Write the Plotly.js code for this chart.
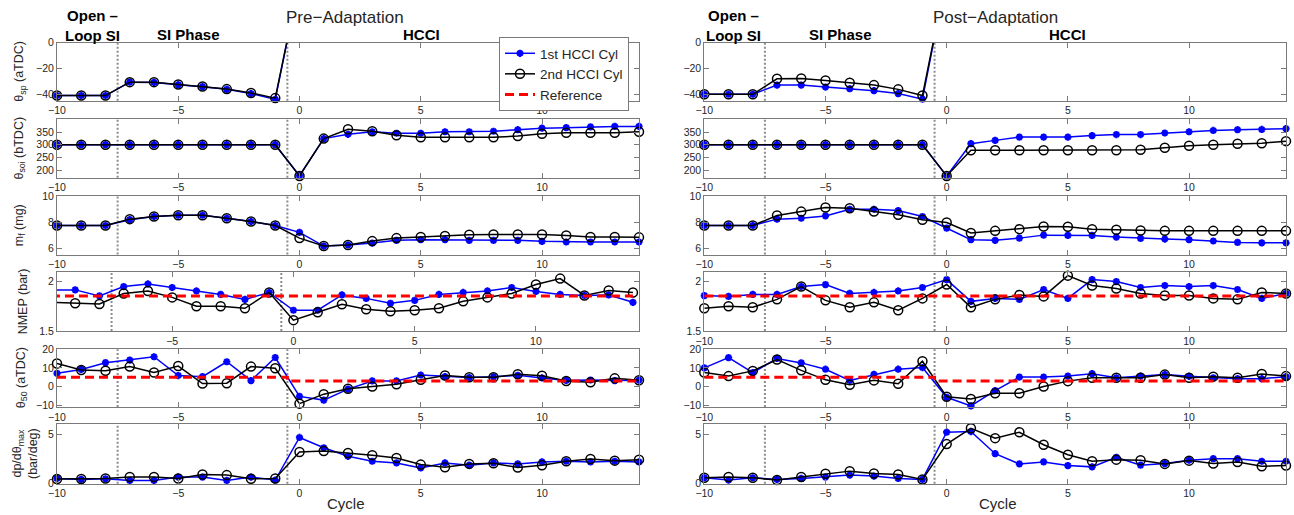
<!DOCTYPE html>
<html><head><meta charset="utf-8">
<script src="https://cdn.plot.ly/plotly-3.0.1.min.js"></script>
<style>html,body{margin:0;padding:0;background:#fff;} #chart{width:1294px;height:515px;}</style>
</head><body><div id="chart"></div>
<script>
// ---------- data ----------
const cycles = [-10,-9,-8,-7,-6,-5,-4,-3,-2,-1,0,1,2,3,4,5,6,7,8,9,10,11,12,13,14];
const xTickVals = [-10,-5,0,5,10];
const phaseBounds = [-7.5,-0.5];
const seriesNames = ['1st HCCI Cyl','2nd HCCI Cyl','Reference'];
const columnTitles = ['Pre\u2212Adaptation','Post\u2212Adaptation'];
const phaseLabels = ['Open \u2013<br>Loop SI','SI Phase','HCCI'];
const yTitles = ['\u03b8<sub>sp</sub> (aTDC)','\u03b8<sub>soi</sub> (bTDC)','m<sub>f</sub> (mg)','NMEP (bar)','\u03b8<sub>50</sub> (aTDC)','dp/d\u03b8<sub>max</sub><br>(bar/deg)'];
const yTickVals = [[-40,-20,0],[200,250,300,350],[6,8,10],[1.5,2],[-10,0,10,20],[0,5]];

// Pre-adaptation
const preSp1 = [-41,-41,-41,-30.6,-30.8,-32.6,-34.1,-36.2,-39.4,-44,48,null,null,null,null,null,null,null,null,null,null,null,null,null,null];
const preSp2 = [-41,-41,-41,-30.6,-30.6,-32.4,-34,-36,-39,-43,48,null,null,null,null,null,null,null,null,null,null,null,null,null,null];
const preSoi1 = [300,300,300,300,300,300,300,300,300,300,178,324,341,351,345,345,351,351,353,359,365,367,370,372,372];
const preSoi2 = [300,300,300,300,300,300,300,300,300,300,177,324,361,353,337,329,329,329,329,334,343,347,347,347,351];
const preMf1 = [7.73,7.73,7.73,8.18,8.42,8.52,8.52,8.29,8.04,7.73,7.20,6.15,6.23,6.38,6.59,6.64,6.64,6.59,6.59,6.59,6.51,6.46,6.46,6.46,6.46];
const preMf2 = [7.73,7.73,7.73,8.22,8.42,8.52,8.52,8.29,8.04,7.73,6.76,6.15,6.23,6.53,6.76,6.84,6.92,7.02,7.04,7.04,7.04,6.97,6.84,6.84,6.82];
const preNmep1 = [1.916,1.916,1.855,1.95,1.976,1.94,1.905,1.87,1.82,1.89,1.71,1.71,1.865,1.83,1.78,1.81,1.87,1.89,1.905,1.94,1.90,1.87,1.86,1.865,1.79];
const preNmep2 = [1.79,1.78,1.774,1.88,1.905,1.84,1.75,1.75,1.73,1.89,1.61,1.69,1.77,1.72,1.70,1.71,1.73,1.80,1.84,1.88,1.97,2.03,1.86,1.91,1.89];
const preT50_1 = [7.1,9.2,12.8,14.2,16.0,5.9,5.3,13.3,3.2,15.6,-5.3,-7.3,-1.4,3.0,3.0,6.2,5.3,4.8,5.2,6.0,4.6,3.3,3.5,3.2,3.4];
const preT50_2 = [12.4,8.9,8.5,10.7,7.5,11.0,1.6,1.8,10.7,9.8,-9.2,-4.1,-1.2,0.0,1.2,3.6,5.9,5.0,5.0,6.6,5.8,3.0,2.3,4.4,3.4];
const preDp1 = [0.53,0.43,0.5,0.33,0.33,0.67,0.67,0.33,0.67,0.37,4.67,3.63,2.77,2.27,2.1,1.6,2.1,1.87,2.1,2.0,2.2,2.27,2.2,2.27,2.2];
const preDp2 = [0.47,0.47,0.53,0.67,0.67,0.53,0.93,0.87,0.5,0.53,3.2,3.3,3.1,2.87,2.6,1.93,1.67,2.0,2.07,1.63,1.87,2.27,2.5,2.33,2.43];

// Post-adaptation
const postSp1 = [-40,-40,-40,-32.9,-32.9,-34.4,-35.7,-37.2,-39.5,-43.8,52,null,null,null,null,null,null,null,null,null,null,null,null,null,null];
const postSp2 = [-40,-40,-40,-28.0,-27.8,-29.3,-31.1,-32.9,-36.2,-41.0,52,null,null,null,null,null,null,null,null,null,null,null,null,null,null];
const postSoi1 = [300,300,300,300,300,300,300,300,300,300,177,304,317,330,330,330,336,340,340,346,351,356,359,360,363];
const postSoi2 = [300,300,300,300,300,300,300,300,300,300,177,278,278,278,278,278,278,278,280,288,296,300,304,306,314];
const postMf1 = [7.73,7.73,7.73,8.22,8.29,8.47,8.98,8.98,8.88,8.42,7.53,6.64,6.59,6.76,6.99,6.97,6.97,6.84,6.74,6.69,6.64,6.54,6.43,6.40,6.40];
const postMf2 = [7.73,7.73,7.73,8.50,8.80,9.11,9.06,8.80,8.55,8.17,7.96,7.15,7.32,7.45,7.66,7.63,7.45,7.40,7.35,7.32,7.32,7.32,7.32,7.32,7.32];
const postNmep1 = [1.858,1.85,1.87,1.87,1.95,1.97,1.88,1.89,1.905,1.94,2.02,1.80,1.83,1.82,1.92,1.83,2.02,2.0,1.94,1.96,1.95,1.96,1.92,1.83,1.88];
const postNmep2 = [1.73,1.75,1.74,1.82,1.95,1.81,1.74,1.79,1.71,1.83,1.97,1.74,1.82,1.865,1.85,2.06,1.96,1.93,1.88,1.86,1.86,1.83,1.82,1.89,1.88];
const postT50_1 = [10.0,15.5,7.5,15.1,12.7,9.3,3.3,6.5,9.3,10.2,-5.8,-10.4,-2.2,5.1,5.1,5.6,6.9,4.7,5.6,6.4,5.5,4.7,4.2,4.2,5.3];
const postT50_2 = [7.5,5.6,8.4,14.5,8.7,3.6,0.9,3.3,1.5,13.6,-5.5,-6.7,-3.6,-3.6,0,2.9,4.7,4.7,4.7,6.4,4.7,5.3,4.7,6.7,5.6];
const postDp1 = [0.6,0.37,0.6,0.43,0.53,0.67,0.87,0.77,0.53,0.43,5.2,5.27,3.03,2.0,2.2,1.83,1.7,2.67,1.87,2.03,2.37,2.53,2.53,2.27,2.27];
const postDp2 = [0.6,0.67,0.6,0.37,0.67,1.0,1.27,1.03,0.93,0.43,4.0,5.6,4.6,5.2,3.93,2.93,2.27,2.43,2.37,2.0,2.33,2.03,2.2,1.77,1.83];

// Reference values
const nmepRef = [1.855,1.855,1.855,1.855,1.855,1.855,1.855,1.855,1.855,1.855,1.855,1.855,1.855,1.855,1.855,1.855,1.855,1.855,1.855,1.855,1.855,1.855,1.855,1.855,1.855];
const theta50Ref = [5,5,5,5,5,5,5,5,5,5,3,3,3,3,3,3,3,3,3,3,3,3,3,3,3];

// ---------- layout geometry ----------
const W = 1294, H = 515;
const px = v => v / W;
const py = v => 1 - v / H;
const colPx = [[57, 639], [704.3, 1286]];
const rowPx = [[42.7,100.7],[119.3,177.7],[196,254.5],[271.7,331],[349.3,407],[424.3,483.7]];
const yRanges = [[-45,0],[170,400],[5.5,10],[1.5,2.1],[-11,20],[0,6]];

const columns = [
  [[preSp1,preSp2],[preSoi1,preSoi2],[preMf1,preMf2],[preNmep1,preNmep2],[preT50_1,preT50_2],[preDp1,preDp2]],
  [[postSp1,postSp2],[postSoi1,postSoi2],[postMf1,postMf2],[postNmep1,postNmep2],[postT50_1,postT50_2],[postDp1,postDp2]]
];
const refs = [null, null, null, nmepRef, theta50Ref, null];

const axisColor = '#7a7a7a';
const FONT = 'Liberation Sans, Arial, sans-serif';
const tickFont = {family: FONT, size: 10.5, color: '#262626'};

const data = [];
const layout = {
  width: W, height: H, autosize: false,
  margin: {l: 0, r: 0, t: 0, b: 0},
  paper_bgcolor: '#fff', plot_bgcolor: '#fff',
  font: {family: FONT, color: '#262626'},
  showlegend: true,
  legend: {
    x: px(499), y: py(37), xanchor: 'left', yanchor: 'top',
    bgcolor: '#fff', bordercolor: axisColor, borderwidth: 1,
    font: {family: FONT, size: 13.5, color: '#262626'},
    tracegroupgap: 0, itemwidth: 30
  },
  shapes: [], annotations: []
};

let legendShown = {b: false, k: false, r: false};
for (let c = 0; c < 2; c++) {
  for (let r = 0; r < 6; r++) {
    const idx = c * 6 + r + 1;
    const s = idx === 1 ? '' : String(idx);
    const xr = (c === 0 && r === 3) ? [-9.75, 14.25] : [-10, 14];
    layout['xaxis' + s] = {
      domain: [px(colPx[c][0]), px(colPx[c][1])], anchor: 'y' + s, range: xr,
      tickvals: xTickVals, ticks: 'inside', ticklen: 5, tickcolor: axisColor,
      showline: true, linecolor: axisColor, linewidth: 1, mirror: 'ticks',
      showgrid: false, zeroline: false, tickfont: tickFont
    };
    layout['yaxis' + s] = {
      domain: [py(rowPx[r][1]), py(rowPx[r][0])], anchor: 'x' + s, range: yRanges[r],
      tickvals: yTickVals[r], ticks: 'inside', ticklen: 5, tickcolor: axisColor,
      showline: true, linecolor: axisColor, linewidth: 1, mirror: 'ticks',
      showgrid: false, zeroline: false, tickfont: tickFont
    };
    const clip = (c === 0 && r === 3);
    const [b, k] = columns[c][r];
    data.push({
      x: cycles, y: b, xaxis: 'x' + s, yaxis: 'y' + s, type: 'scatter', mode: 'lines+markers',
      name: seriesNames[0], legendgroup: 'b', showlegend: !legendShown.b, cliponaxis: clip,
      line: {color: '#0000ff', width: 1.5},
      marker: {symbol: 'asterisk-open', size: 6, color: '#0000ff', line: {color: '#0000ff', width: 2.2}}
    });
    legendShown.b = true;
    data.push({
      x: cycles, y: k, xaxis: 'x' + s, yaxis: 'y' + s, type: 'scatter', mode: 'lines+markers',
      name: seriesNames[1], legendgroup: 'k', showlegend: !legendShown.k, cliponaxis: clip,
      line: {color: '#000000', width: 1.5},
      marker: {symbol: 'circle-open', size: 9, color: '#000000', line: {color: '#000000', width: 1.5}}
    });
    legendShown.k = true;
    if (refs[r]) {
      data.push({
        x: cycles, y: refs[r], xaxis: 'x' + s, yaxis: 'y' + s, type: 'scatter', mode: 'lines',
        name: seriesNames[2], legendgroup: 'r', showlegend: !legendShown.r,
        line: {color: '#ff0000', width: 3, dash: '9px,5px', shape: 'hvh'}
      });
      legendShown.r = true;
    }
    for (const bnd of phaseBounds) {
      layout.shapes.push({
        type: 'line', xref: 'x' + s, yref: 'y' + s + ' domain', x0: bnd, x1: bnd, y0: 0, y1: 1,
        line: {color: '#8c8c8c', width: 2, dash: '2px,2px'}, layer: 'below'
      });
    }
  }
}

// column titles and phase labels
const colCenters = [345, 995.5];
const openCenters = [92, 733];
const siCenters = [188, 840];
const hcciCenters = [421, 1067];
const cycleCenters = [346, 998];
for (let c = 0; c < 2; c++) {
  layout.annotations.push({xref: 'paper', yref: 'paper', x: px(colCenters[c]), y: py(17), text: columnTitles[c],
    showarrow: false, xanchor: 'center', yanchor: 'middle', font: {family: FONT, size: 17, color: '#262626'}});
  layout.annotations.push({xref: 'paper', yref: 'paper', x: px(openCenters[c]), y: py(26), text: '<b>' + phaseLabels[0] + '</b>',
    showarrow: false, xanchor: 'center', yanchor: 'middle', font: {family: FONT, size: 15, color: '#000'}});
  layout.annotations.push({xref: 'paper', yref: 'paper', x: px(siCenters[c]), y: py(35), text: '<b>' + phaseLabels[1] + '</b>',
    showarrow: false, xanchor: 'center', yanchor: 'middle', font: {family: FONT, size: 15, color: '#000'}});
  layout.annotations.push({xref: 'paper', yref: 'paper', x: px(hcciCenters[c]), y: py(35), text: '<b>' + phaseLabels[2] + '</b>',
    showarrow: false, xanchor: 'center', yanchor: 'middle', font: {family: FONT, size: 15, color: '#000'}});
  layout.annotations.push({xref: 'paper', yref: 'paper', x: px(cycleCenters[c]), y: py(503), text: 'Cycle',
    showarrow: false, xanchor: 'center', yanchor: 'middle', font: {family: FONT, size: 15, color: '#262626'}});
}
// y-axis titles (left column)
const yTitleX = [20, 20, 20, 23, 22, 25];
for (let r = 0; r < 6; r++) {
  layout.annotations.push({xref: 'paper', yref: 'paper', x: px(yTitleX[r]), y: py((rowPx[r][0] + rowPx[r][1]) / 2),
    text: yTitles[r], textangle: -90, showarrow: false, xanchor: 'center', yanchor: 'middle',
    font: {family: FONT, size: 12.5, color: '#262626'}});
}

Plotly.newPlot('chart', data, layout, {staticPlot: true, displayModeBar: false});
</script>
</body></html>
